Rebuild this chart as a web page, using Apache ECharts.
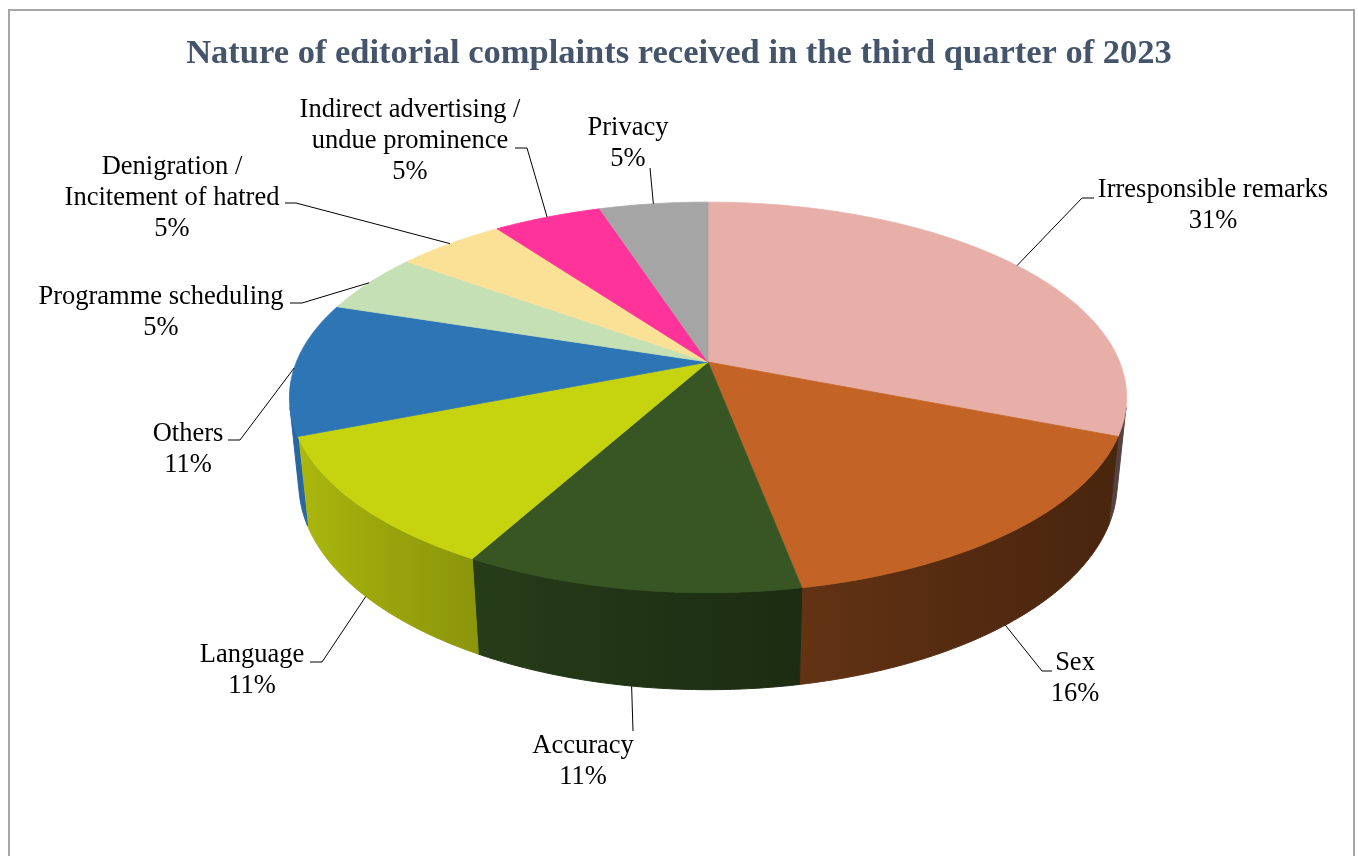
<!DOCTYPE html>
<html>
<head>
<meta charset="utf-8">
<script src="https://cdn.jsdelivr.net/npm/echarts@6/dist/echarts.min.js"></script>
<style>
html, body { margin: 0; padding: 0; background: #fff; }
#chart { width: 1358px; height: 856px; }
</style>
</head>
<body>
<div id="chart"></div>
<script>
// complaint categories, clockwise from 12 o'clock
var categories = ['Irresponsible remarks', 'Sex', 'Accuracy', 'Language', 'Others',
    'Programme scheduling', 'Denigration /\nIncitement of hatred',
    'Indirect advertising /\nundue prominence', 'Privacy'];
var shares = [31, 16, 11, 11, 11, 5, 5, 5, 5];
var colors = ['#E8AFA8', '#C36426', '#375623', '#C6D40F', '#2E75B6',
    '#C5E0B4', '#FAE196', '#FF3399', '#A5A5A5'];

// where each label box sits and where its leader line bends (layout only)
var labelPlace = [
    {at: [1213, 206], bend: [1082, 198], end: [1094, 198]},
    {at: [1075, 679], bend: [1042, 671], end: [1052, 671]},
    {at: [583, 762], bend: [633, 731]},
    {at: [252, 671], bend: [322, 662], end: [310, 662]},
    {at: [188, 450], bend: [240, 440], end: [228, 440]},
    {at: [161, 313], bend: [302, 303], end: [290, 303]},
    {at: [172, 198], bend: [296, 203], end: [285, 203]},
    {at: [410, 141], bend: [527, 148], end: [515, 148]},
    {at: [628, 144], bend: [650, 168]}
];

// simple perspective camera for the tilted disc
var view = {cx: 708, cy: 362, f: 2017, D: 4.9, sinA: 0.4588, cosA: 0.8885, depth: 0.237};

function project(phi, r, y) {
    var X = r * Math.cos(phi), Z = r * Math.sin(phi);
    var up = y * view.cosA - Z * view.sinA;
    var dist = view.D - (y * view.sinA + Z * view.cosA);
    return [view.cx + view.f * X / dist, view.cy - view.f * up / dist];
}

var total = shares.reduce(function (s, v) { return s + v; }, 0);
var slices = [];
var acc = 0;
shares.forEach(function (v) {
    var a = -Math.PI / 2 + acc / total * 2 * Math.PI;
    acc += v;
    var b = -Math.PI / 2 + acc / total * 2 * Math.PI;
    slices.push({a: a, b: b, mid: (a + b) / 2});
});

// outer wall is only seen where it faces the camera
var visLo = Math.asin(1 / (view.D * view.cosA));
var visHi = Math.PI - visLo;

function shadeColor(hex, k) {
    var n = parseInt(hex.slice(1), 16);
    var r = Math.round(((n >> 16) & 255) * k);
    var g = Math.round(((n >> 8) & 255) * k);
    var b = Math.round((n & 255) * k);
    return 'rgb(' + r + ',' + g + ',' + b + ')';
}

function wallShade(phi) {
    var t = (1 - Math.cos(phi)) / 2;
    return 0.37 + 0.53 * Math.pow(t, 1.5);
}

function renderWall(params, api) {
    var i = params.dataIndex, s = slices[i];
    var a = Math.max(s.a, visLo), b = Math.min(s.b, visHi);
    if (b <= a) return {type: 'group', children: []};
    var n = Math.max(2, Math.ceil((b - a) / (Math.PI / 360)));
    var topPts = [], botPts = [];
    for (var k = 0; k <= n; k++) {
        var p = a + (b - a) * k / n;
        topPts.push(project(p, 1, 0));
        botPts.push(project(p, 1, -view.depth));
    }
    var pts = topPts.concat(botPts.reverse());
    var xs = pts.map(function (q) { return q[0]; });
    var xmin = Math.min.apply(null, xs), xmax = Math.max.apply(null, xs);
    var stops = [];
    for (var j = 0; j <= 16; j++) {
        var ph = b - (b - a) * j / 16;
        var x = project(ph, 1, 0)[0];
        stops.push({offset: Math.min(1, Math.max(0, (x - xmin) / (xmax - xmin || 1))),
            color: shadeColor(colors[i], wallShade(ph))});
    }
    stops.sort(function (u, v) { return u.offset - v.offset; });
    var grad = new echarts.graphic.LinearGradient(0, 0, 1, 0, stops);
    return {
        type: 'polygon',
        shape: {points: pts},
        style: {fill: grad, stroke: grad, lineWidth: 1}
    };
}

function renderTop(params, api) {
    var i = params.dataIndex, s = slices[i];
    var pts = [project(0, 0, 0)];
    var n = Math.ceil((s.b - s.a) / (Math.PI / 360));
    for (var k = 0; k <= n; k++) pts.push(project(s.a + (s.b - s.a) * k / n, 1, 0));
    var lay = labelPlace[i];
    var front = Math.sin(s.mid) > 0.5;
    var tip = project(s.mid, 1, front ? -view.depth : 0);
    var line = [tip, lay.bend];
    if (lay.end) line.push(lay.end);
    return {
        type: 'group',
        children: [
            {type: 'polygon', shape: {points: pts},
                style: {fill: colors[i], stroke: colors[i], lineWidth: 0.8}},
            {type: 'polyline', shape: {points: line}, z2: 10,
                style: {stroke: '#000', lineWidth: 1, fill: 'none'}},
            {type: 'text', x: lay.at[0], y: lay.at[1], z2: 10,
                style: {
                    text: categories[i] + '\n' + shares[i] + '%',
                    fill: '#000',
                    font: '26.5px "Liberation Serif", "Times New Roman", serif',
                    align: 'center', verticalAlign: 'middle',
                    textAlign: 'center', textVerticalAlign: 'middle',
                    lineHeight: 31
                }}
        ]
    };
}

var chart = echarts.init(document.getElementById('chart'));
var option = {
    backgroundColor: '#fff',
    animation: false,
    title: {
        text: 'Nature of editorial complaints received in the third quarter of 2023',
        left: 'center',
        top: 37,
        padding: 0,
        textStyle: {
            fontFamily: '"Liberation Serif", "Times New Roman", serif',
            fontWeight: 'bold',
            fontSize: 34.5,
            color: '#44546A'
        }
    },
    graphic: [{
        type: 'rect',
        silent: true,
        shape: {x: 9, y: 10, width: 1345, height: 900},
        style: {fill: 'none', stroke: '#A6A6A6', lineWidth: 2}
    }],
    series: [
        {type: 'custom', coordinateSystem: 'none', renderItem: renderWall,
            data: shares, z: 1, silent: true},
        {type: 'custom', coordinateSystem: 'none', renderItem: renderTop,
            data: shares, z: 2, silent: true}
    ]
};
chart.setOption(option);
</script>
</body>
</html>
